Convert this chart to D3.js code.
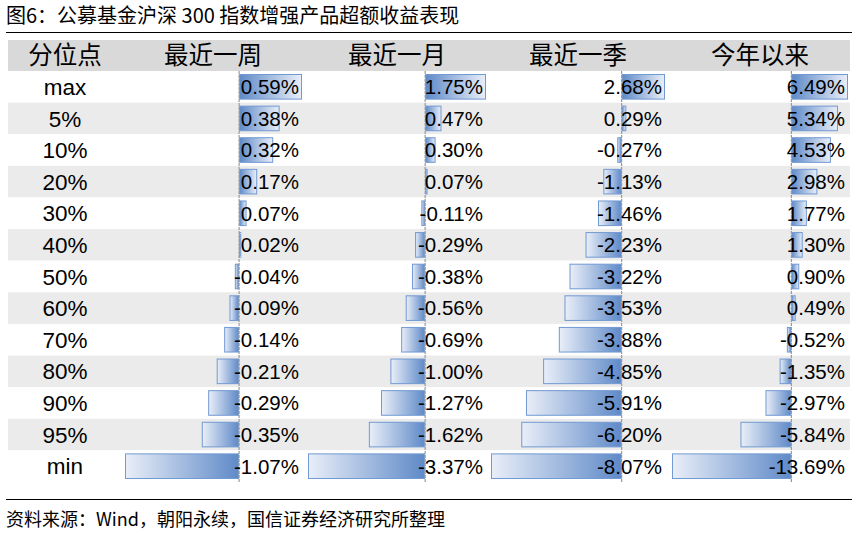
<!DOCTYPE html>
<html>
<head>
<meta charset="utf-8">
<title>公募基金沪深300指数增强产品超额收益表现</title>
<style>
  body { margin: 0; background: #fff; }
  text { font-family: "Liberation Sans", Arial, "Noto Sans CJK SC", sans-serif; }
  .cjk { font-family: "Noto Sans CJK SC", "Liberation Sans", sans-serif; }
</style>
</head>
<body>
<script src="https://d3js.org/d3.v7.min.js"></script>
<script>
// quantile rows and the four return windows (excess return, %)
var quantiles = ["max", "5%", "10%", "20%", "30%", "40%", "50%", "60%", "70%", "80%", "90%", "95%", "min"];
var headers = ["分位点", "最近一周", "最近一月", "最近一季", "今年以来"];
var week = [0.59, 0.38, 0.32, 0.17, 0.07, 0.02, -0.04, -0.09, -0.14, -0.21, -0.29, -0.35, -1.07];
var month = [1.75, 0.47, 0.30, 0.07, -0.11, -0.29, -0.38, -0.56, -0.69, -1.00, -1.27, -1.62, -3.37];
var quarter = [2.68, 0.29, -0.27, -1.13, -1.46, -2.23, -3.22, -3.53, -3.88, -4.85, -5.91, -6.20, -8.07];
var ytd = [6.49, 5.34, 4.53, 2.98, 1.77, 1.30, 0.90, 0.49, -0.52, -1.35, -2.97, -5.84, -13.69];

var width = 856, height = 544;
var svg = d3.select("body").append("svg")
    .attr("width", width)
    .attr("height", height);

// gradients: dark at the zero line, fading outward
var defs = svg.append("defs");
function grad(id, x1, x2) {
    var g = defs.append("linearGradient").attr("id", id)
        .attr("x1", x1).attr("x2", x2).attr("y1", "0%").attr("y2", "0%");
    g.append("stop").attr("offset", "0%").attr("stop-color", "#5f8ac8");
    g.append("stop").attr("offset", "100%").attr("stop-color", "#e9eef8");
}
grad("gPos", "0%", "100%");
grad("gNeg", "100%", "0%");

// title + rules
svg.append("text").attr("class", "cjk")
    .attr("x", 6).attr("y", 23)
    .style("font-size", "20px")
    .text("图6：公募基金沪深 300 指数增强产品超额收益表现");
svg.append("line").attr("x1", 6).attr("x2", 852).attr("y1", 32.5).attr("y2", 32.5)
    .attr("stroke", "#000").attr("stroke-width", 1);
svg.append("line").attr("x1", 6).attr("x2", 852).attr("y1", 499.5).attr("y2", 499.5)
    .attr("stroke", "#000").attr("stroke-width", 1);
svg.append("text").attr("class", "cjk")
    .attr("x", 6).attr("y", 526)
    .style("font-size", "18px")
    .text("资料来源：Wind，朝阳永续，国信证券经济研究所整理");

// table layout
var tableLeft = 8, tableRight = 850;
var headTop = 40, headH = 31;
var y = d3.scaleBand()
    .domain(quantiles)
    .range([headTop + headH, 482])
    .paddingInner(0);

var cols = [
    { data: week, x0: 125, x1: 302 },
    { data: month, x0: 308, x1: 486 },
    { data: quarter, x0: 491, x1: 665 },
    { data: ytd, x0: 672, x1: 848 }
];
var labelX = 65;
var headX = [labelX, 213, 397, 578, 760];

// header band
svg.append("rect").attr("x", tableLeft).attr("y", headTop)
    .attr("width", tableRight - tableLeft).attr("height", headH)
    .attr("fill", "#d9d9d9");
svg.selectAll(".head").data(headers).enter().append("text")
    .attr("class", "cjk")
    .attr("x", function(d, i) { return headX[i]; })
    .attr("y", headTop + headH / 2)
    .attr("dy", "0.36em")
    .attr("text-anchor", "middle")
    .style("font-size", "24.5px")
    .text(function(d) { return d; });

// zebra rows
svg.selectAll(".band").data(quantiles).enter().append("rect")
    .attr("x", tableLeft)
    .attr("y", function(d) { return y(d); })
    .attr("width", tableRight - tableLeft)
    .attr("height", y.bandwidth())
    .attr("fill", function(d, i) { return i % 2 ? "#ebebeb" : "#fff"; });

// row labels
svg.selectAll(".rowlab").data(quantiles).enter().append("text")
    .attr("x", labelX)
    .attr("y", function(d) { return y(d) + y.bandwidth() / 2; })
    .attr("dy", "0.36em")
    .attr("text-anchor", "middle")
    .style("font-size", "22.5px")
    .text(function(d) { return d; });

// data bar columns
cols.forEach(function(c) {
    var x = d3.scaleLinear()
        .domain([d3.min(c.data), d3.max(c.data)])
        .range([c.x0, c.x1]);
    var g = svg.append("g");
    var pad = 3.5;

    g.selectAll("rect").data(c.data).enter().append("rect")
        .attr("x", function(d) { return Math.min(x(d), x(0)) + 0.5; })
        .attr("y", function(d, i) { return y(quantiles[i]) + pad; })
        .attr("width", function(d) { return Math.max(Math.abs(x(d) - x(0)) - 1, 0.5); })
        .attr("height", y.bandwidth() - pad * 2)
        .attr("fill", function(d) { return d >= 0 ? "url(#gPos)" : "url(#gNeg)"; })
        .attr("stroke", "#7199d2")
        .attr("stroke-width", 1);

    // zero line
    g.append("line")
        .attr("x1", x(0)).attr("x2", x(0))
        .attr("y1", y.range()[0]).attr("y2", y.range()[1])
        .attr("stroke", "#9a9a9a")
        .attr("stroke-width", 1.2)
        .attr("stroke-dasharray", "3,1");

    g.selectAll("text").data(c.data).enter().append("text")
        .attr("x", c.x1 - 3)
        .attr("y", function(d, i) { return y(quantiles[i]) + y.bandwidth() / 2; })
        .attr("dy", "0.36em")
        .attr("text-anchor", "end")
        .style("font-size", "20.5px")
        .text(function(d) { return d.toFixed(2) + "%"; });
});
</script>
</body>
</html>
